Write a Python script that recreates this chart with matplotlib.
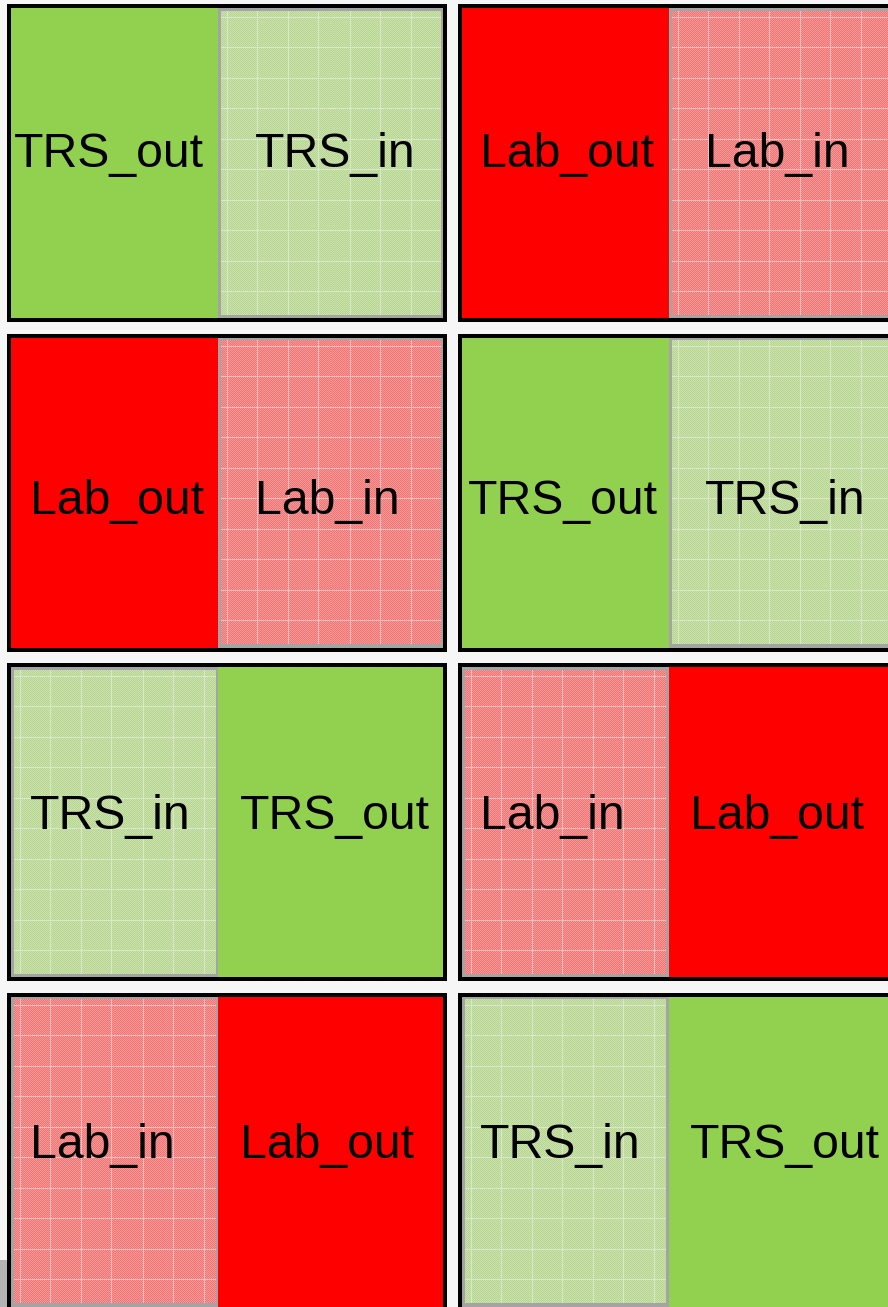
import numpy as np
import matplotlib.pyplot as plt
from matplotlib.patches import Rectangle

plt.rcParams["font.family"] = ["Liberation Sans", "DejaVu Sans"]

# plate layout: (left half, right half) of each box, top to bottom
left_col = [("TRS_out", "TRS_in"), ("Lab_out", "Lab_in"),
            ("TRS_in", "TRS_out"), ("Lab_in", "Lab_out")]
right_col = [("Lab_out", "Lab_in"), ("TRS_out", "TRS_in"),
             ("Lab_in", "Lab_out"), ("TRS_in", "TRS_out")]
# where the labels start, measured from the left edge of each box (px)
left_start = [(7, 248), (23, 248), (23, 233), (23, 233)]
right_start = [(22, 247), (10, 247), (22, 232), (22, 232)]
# baseline of the labels, as a fraction of the box height
label_base = [0.513, 0.569, 0.522, 0.522]

solid = {"TRS": "#92d050", "Lab": "#ff0000"}
# (dark dither, light dither, grid line) for the "in" halves
tex = {"TRS": ((184, 212, 146), (202, 226, 172), (216, 232, 200)),
       "Lab": ((240, 116, 116), (248, 152, 152), (246, 190, 190))}

W, H = 888, 1307
fig = plt.figure(figsize=(W / 100, H / 100), dpi=100, facecolor="#f6f6f6")
ax = fig.add_axes([0, 0, 1, 1])
ax.set_xlim(0, W)
ax.set_ylim(H, 0)
ax.axis("off")

box_x = [7, 458]
box_w, box_h = 440, 318
pitch = 329.5
border = 4
split = 207


def texture(kind, w, h):
    dark, light, line = [np.array(c) / 255 for c in tex[kind]]
    yy, xx = np.mgrid[0:h, 0:w]
    chk = ((xx + yy) % 2 == 0)
    img = np.where(chk[..., None], dark, light)
    grid = (((xx + 25) % 30.5) < 1) | (((yy + 25) % 30.5) < 1)
    img[grid] = line
    return img


def half(x, y, w, h, label):
    kind, side = label.split("_")
    if side == "out":
        ax.add_patch(Rectangle((x, y), w, h, fc=solid[kind], ec="none"))
    else:
        ax.add_patch(Rectangle((x, y), w, h, fc="#a4a4a4", ec="none"))
        e = 3
        iw, ih = int(w - 2 * e), int(h - 2 * e)
        ax.imshow(texture(kind, iw, ih), extent=(x + e, x + e + iw, y + e + ih, y + e),
                  interpolation="nearest", aspect="auto", zorder=2)


for c, (col, starts) in enumerate([(left_col, left_start), (right_col, right_start)]):
    for r, (a, b) in enumerate(col):
        x0 = box_x[c]
        y0 = 4 + r * pitch
        ax.add_patch(Rectangle((x0, y0), box_w, box_h, fc="black", ec="none"))
        ix, iy = x0 + border, y0 + border
        iw, ih = box_w - 2 * border, box_h - 2 * border
        half(ix, iy, split, ih, a)
        half(ix + split, iy, iw - split, ih, b)
        for lab, sx in zip((a, b), starts[r]):
            ax.text(x0 + sx, y0 + label_base[r] * box_h, lab, ha="left", va="baseline",
                    fontsize=34.7, color="black", zorder=5)

# grey scrap in the bottom-left corner
ax.add_patch(Rectangle((0, 1260), 7, 50, fc="#b4b4b4", ec="none"))

ax.set_xlim(0, W)
ax.set_ylim(H, 0)
fig.savefig("out.png", dpi=100, facecolor=fig.get_facecolor())
